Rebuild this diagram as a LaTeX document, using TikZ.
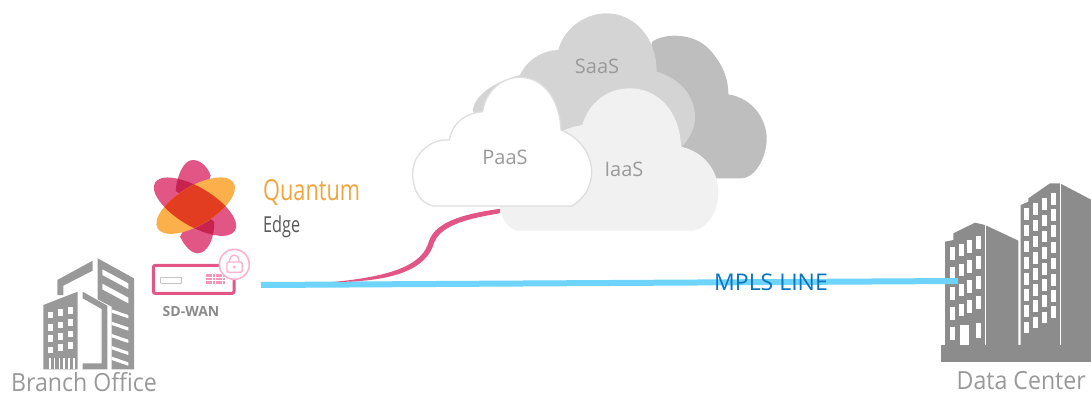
\documentclass[tikz,border=0pt]{standalone}
\usepackage{fontspec}
\setmainfont{Open Sans}
\definecolor{backc}{HTML}{BEBEBE}
\definecolor{saasc}{HTML}{D4D4D4}
\definecolor{iaasc}{HTML}{F1F1F1}
\definecolor{paasb}{HTML}{DEDEDE}
\definecolor{cloudtxt}{HTML}{9A9A9A}
\definecolor{pinkc}{HTML}{E25685}
\definecolor{orangec}{HTML}{FBB04B}
\definecolor{redc}{HTML}{E23D20}
\definecolor{crimc}{HTML}{C8234F}
\definecolor{lockc}{HTML}{F9B3CC}
\definecolor{bluec}{HTML}{6FD4FB}
\definecolor{mplsc}{HTML}{0B74C0}
\definecolor{bgrey}{HTML}{999999}
\definecolor{dgrey}{HTML}{8C8C8C}
\definecolor{qorange}{HTML}{F2A53F}
\tikzset{
 lbl/.style={inner sep=0pt,font=\fontsize{#1}{#1}\selectfont},
 cloudlbl/.style={lbl=20,text=cloudtxt},
 buildlbl/.style={lbl=25,text=bgrey,xscale=0.925},
 win/.style={fill=white}
}
\begin{document}
\begin{tikzpicture}[x=1pt,y=-1pt]
\useasboundingbox (0,0) rectangle (1091,396);
% clouds
\begin{scope}[shift={(400,0)},scale=0.33333]
\fill[backc] (757,125) .. controls (790,100) and (880,95) .. (930,150) .. controls (965,190) and (985,230) .. (985,283) .. controls (1060,295) and (1100,360) .. (1100,415) .. controls (1100,480) and (1060,535) .. (1025,535) -- (850,535) -- (700,300) -- cycle;
\fill[saasc] (218,330) .. controls (225,290) and (270,250) .. (360,225) .. controls (380,180) and (430,150) .. (475,150) .. controls (490,90) and (550,40) .. (620,40) .. controls (700,40) and (770,110) .. (770,215) .. controls (840,235) and (885,290) .. (885,350) .. controls (885,390) and (865,420) .. (845,440) -- (480,600) -- (250,400) -- cycle;
\fill[iaasc] (490,392) .. controls (510,382) and (530,378) .. (547,375) .. controls (565,310) and (620,265) .. (690,265) .. controls (770,265) and (840,330) .. (843,440) .. controls (910,455) and (955,510) .. (955,575) .. controls (955,640) and (920,685) .. (880,692) -- (350,692) .. controls (325,685) and (305,660) .. (300,620) -- cycle;
\filldraw[fill=white,draw=paasb,line width=1.3pt] (100,618) .. controls (60,610) and (38,570) .. (38,520) .. controls (38,465) and (90,415) .. (148,420) .. controls (155,375) and (190,340) .. (248,335) .. controls (255,280) and (300,232) .. (360,232) .. controls (425,232) and (478,290) .. (483,390) .. controls (535,410) and (575,460) .. (575,515) .. controls (575,560) and (550,600) .. (515,618) -- cycle;
\end{scope}
\node[cloudlbl] (saas) at (597,66) {SaaS};
\node[cloudlbl] (paas) at (505,157) {PaaS};
\node[cloudlbl] (iaas) at (624,169) {IaaS};
% logo
\begin{scope}[shift={(0,140)},scale=0.33333]
\def\lobes{(527,153) .. controls (530,110) and (550,60) .. (578,60) .. controls (605,60) and (625,85) .. (632,107) -- (600,200) -- cycle (540,290) .. controls (555,320) and (575,340) .. (592,340) .. controls (625,340) and (645,290) .. (642,245) -- (590,200) -- cycle}
\fill[pinkc] \lobes;
\fill[pinkc,rotate around={-31:(585,200)}] (585,200) ellipse (140 and 58);
\begin{scope}
\clip \lobes;
\fill[crimc,rotate around={-31:(585,200)}] (585,200) ellipse (140 and 58);
\end{scope}
\fill[orangec,rotate around={31:(587,197)}] (587,197) ellipse (133 and 58);
\begin{scope}
\clip[rotate around={31:(587,197)}] (587,197) ellipse (133 and 58);
\fill[redc,rotate around={-31:(585,200)}] (585,200) ellipse (140 and 58);
\end{scope}
% SD-WAN box
\draw[pinkc,line width=3pt,rounded corners=2pt] (460,376) rectangle (702,460);
\draw[black!35,line width=0.6pt,rounded corners=0.5pt] (482,412) rectangle (545,430);
\foreach \r in {0,1,2}\foreach \c in {0,...,5}{\fill[lockc!70!pinkc] (618+\c*10,403+\r*10) rectangle +(8,8);}
\filldraw[fill=white,draw=lockc,line width=1.6pt] (703,373) circle (45);
\draw[lockc,line width=1.4pt,rounded corners=1.5pt] (681,366) rectangle (727,397);
\draw[lockc,line width=1.4pt] (689,366) -- (689,360) arc[start angle=180,end angle=360,x radius=14,y radius=15] -- (717,366);
\fill[lockc] (703,381) circle (5);
\end{scope}
% Branch building
\begin{scope}[shift={(0,140)},scale=0.33333]
\fill[bgrey] (172,420) -- (278,362) -- (278,392) -- (190,437) -- (190,465) -- (172,465) -- cycle;
\fill[bgrey] (293,355) -- (402,415) -- (402,688) -- (335,688) -- (335,500) -- (293,478) -- cycle;
\foreach \y in {388,431}{\fill[white] (307,\y) -- (385,\y+42) -- (385,\y+59) -- (307,\y+17) -- cycle;}
\foreach \y in {508,545,582,618,650}{\fill[white] (335,\y) -- (385,\y+17) -- (385,\y+27) -- (335,\y+10) -- cycle;}
\fill[bgrey] (248,455) -- (322,497) -- (322,688) -- (248,688) -- (248,670) -- (305,670) -- (305,507) -- (248,475) -- cycle;
\fill[bgrey] (130,495) -- (233,455) -- (233,688) -- (130,688) -- cycle;
\foreach \c/\x/\d in {0/145/0,1/174/-7,2/203/-14}{
 \foreach \y in {515,552,586,620}{\fill[win] (\x,\y+\d) rectangle +(15,20);}
}
\foreach \x in {147,161,176,190,205,219}{\fill[win] (\x,653) rectangle +(5,35);}
\end{scope}
% Data center
\begin{scope}[shift={(900,170)},scale=0.33333]
\fill[dgrey] (122,525) rectangle (575,575);
\fill[dgrey] (135,525) -- (135,215) -- (160,210) -- (160,190) -- (225,158) -- (255,165) -- (355,212) -- (355,525) -- cycle;
\fill[dgrey] (362,525) -- (362,105) -- (385,95) -- (385,85) -- (450,40) -- (480,40) -- (575,90) -- (575,525) -- cycle;
\draw[white,line width=1pt] (255,165) -- (255,525);
\draw[white,line width=1pt] (480,40) -- (480,525);
\foreach \x/\d in {149/0,176/-11,201/-22,227/-33}{
 \foreach \r in {0,1,2,3}{\fill[win] (\x,232+\r*60+\d) rectangle +(15,38);}
}
\fill[win] (149,470) rectangle +(15,40);
\fill[win] (181,465) rectangle (208,525);
\fill[win] (227,460) rectangle +(15,45);
\foreach \x/\d in {372/0,398/-15,425/-30,452/-46}{
 \foreach \r in {0,...,7}{\fill[win] (\x,115+\r*48.5+\d) rectangle +(15,35);}
}
\end{scope}
% connectors
\coordinate (lineA) at (261,285);
\coordinate (lineB) at (958,281);
\coordinate (pinkA) at (333,282);
\coordinate (pinkB) at (500,211);
\draw[bluec,line width=6pt] (lineA) -- (lineB);
\fill[pinkc] (pinkA) .. controls (395,276) and (423,264) .. (429,241) .. controls (436,220) and (470,213) .. ([yshift=2.2pt]pinkB) -- ([yshift=-2.2pt]pinkB) .. controls (472,218) and (441,224) .. (434,243) .. controls (427,268) and (396,282) .. (pinkA) -- cycle;
% labels
\node[lbl=23,text=mplsc] (mpls) at (771,282) {MPLS LINE};
\node[buildlbl,anchor=west] (branch) at (11,382) {Branch Office};
\node[buildlbl,anchor=east] (dc) at (1086,381) {Data Center};
\node[text=bgrey!90!black,inner sep=0pt,font=\fontsize{14}{14}\selectfont\bfseries] (sdwan) at (191,311) {SD-WAN};
\node[lbl=29,text=qorange,anchor=west,xscale=0.75] (quantum) at (263,192) {Quantum};
\node[lbl=22,text=black!65,anchor=west,xscale=0.74] (edge) at (263,227) {Edge};
\end{tikzpicture}
\end{document}
